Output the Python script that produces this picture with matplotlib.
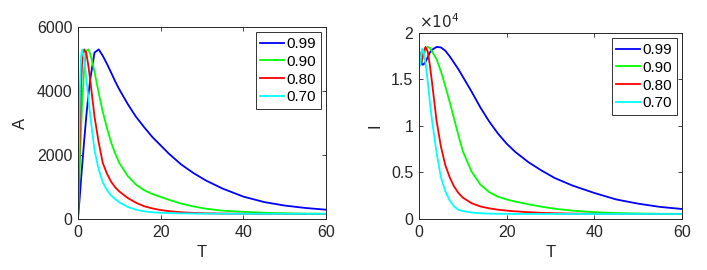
import matplotlib
matplotlib.use("Agg")
import matplotlib.pyplot as plt
from matplotlib.ticker import FuncFormatter

plt.rcParams["font.family"] = ["Liberation Sans", "DejaVu Sans"]

# time grid (T)
t = [0, 0.25, 0.5, 0.75, 1, 1.5, 2, 2.5, 3, 4, 5, 6, 7, 8, 9, 10, 12, 14, 16, 18,
     20, 22, 25, 28, 31, 35, 40, 45, 50, 55, 60]

labels = ["0.99", "0.90", "0.80", "0.70"]
colors = ["#0000ff", "#00ff00", "#ff0000", "#00ffff"]

# left panel: A
a_099 = [0, 400, 800, 1250, 1650, 2450, 3200, 3850, 4400, 5200, 5300, 5100, 4850, 4580,
         4300, 4050, 3600, 3200, 2870, 2560, 2300, 2040, 1700, 1430, 1200, 950, 700,
         530, 420, 345, 290]
a_090 = [0, 900, 1900, 2800, 3600, 4700, 5250, 5300, 5150, 4600, 3950, 3350, 2850, 2400,
         2050, 1750, 1350, 1080, 900, 780, 690, 600, 480, 390, 320, 260, 225, 195, 178,
         168, 165]
a_080 = [0, 1500, 3000, 4200, 4900, 5300, 5200, 4800, 4300, 3200, 2400, 1750, 1420, 1170,
         990, 860, 660, 510, 400, 330, 280, 245, 210, 190, 178, 170, 165, 162, 161, 160,
         160]
a_070 = [0, 2300, 4200, 5100, 5300, 5000, 4400, 3800, 3200, 2150, 1550, 1150, 900, 740,
         620, 520, 380, 290, 240, 210, 195, 185, 175, 170, 167, 165, 163, 162, 161, 160,
         160]

# right panel: I
i_099 = [18200, 17500, 16900, 16600, 16600, 16900, 17400, 17900, 18200, 18500, 18450,
         18100, 17500, 16800, 16100, 15300, 13700, 12000, 10500, 9200, 8100, 7200, 6100,
         5200, 4400, 3600, 2800, 2100, 1650, 1300, 1075]
i_090 = [18200, 17300, 16900, 17100, 17500, 18200, 18500, 18400, 18000, 17200, 15900,
         14300, 12600, 10800, 9000, 7300, 5100, 3700, 2900, 2400, 2100, 1870, 1580, 1320,
         1100, 900, 730, 640, 590, 560, 550]
i_080 = [18200, 17000, 16700, 17300, 18000, 18500, 18000, 16500, 14600, 10600, 7800, 5800,
         4500, 3500, 2800, 2300, 1700, 1350, 1150, 1000, 900, 820, 730, 660, 620, 580, 560,
         550, 550, 545, 545]
i_070 = [18200, 16500, 17500, 18300, 18100, 16800, 14800, 12500, 10500, 7200, 4500, 3000,
         2000, 1350, 1000, 850, 700, 620, 580, 560, 550, 548, 545, 543, 542, 541, 540, 540,
         540, 540, 540]

dark = "#262626"

fig = plt.figure(figsize=(7.07, 2.70), dpi=100)
ax1 = fig.add_axes([0.1103, 0.1889, 0.3508, 0.7111])
ax2 = fig.add_axes([0.5926, 0.1889, 0.3720, 0.6889])

for ax, series in zip([ax1, ax2], [[a_099, a_090, a_080, a_070], [i_099, i_090, i_080, i_070]]):
    for y, c, lab in zip(series, colors, labels):
        ax.plot(t, y, color=c, lw=1.3, label=lab)
    ax.set_xlim(0, 60)
    ax.set_xticks([0, 20, 40, 60])
    ax.set_xlabel("T", fontsize=12, color=dark, labelpad=4)
    ax.tick_params(direction="in", top=True, right=True, length=3, width=0.6,
                   labelsize=11.5, colors=dark, pad=4)
    for s in ax.spines.values():
        s.set_linewidth(0.7)
        s.set_color(dark)
    leg = ax.legend(loc="upper right", fontsize=11, handlelength=1.55, handletextpad=0.15,
                    labelspacing=0.25, borderaxespad=0.35, borderpad=0.3,
                    fancybox=False, framealpha=1)
    leg.get_frame().set_edgecolor("#333333")
    leg.get_frame().set_linewidth(0.7)

ax1.set_ylim(0, 6000)
ax1.set_yticks([0, 2000, 4000, 6000])
ax1.set_ylabel("A", fontsize=12, color=dark, labelpad=6)

ax2.set_ylim(0, 20000)
ax2.set_yticks([0, 5000, 10000, 15000, 20000])
ax2.yaxis.set_major_formatter(FuncFormatter(lambda v, p: f"{v / 1e4:g}"))
ax2.set_ylabel("I", fontsize=12, color=dark, labelpad=6)
ax2.text(0.0, 1.01, r"$\times10^{4}$", transform=ax2.transAxes, fontsize=11,
         color=dark, ha="left", va="bottom")

fig.savefig("out.png", dpi=100)
